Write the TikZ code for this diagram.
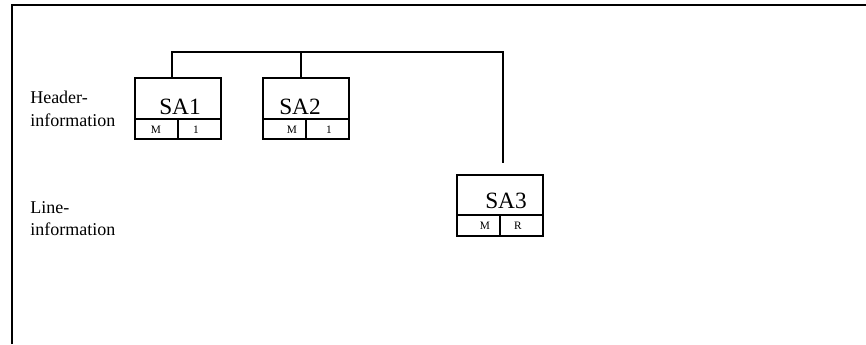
\documentclass[tikz,border=0pt]{standalone}
\usepackage{fontspec}
\setmainfont{Liberation Serif}
\begin{document}
\begin{tikzpicture}[x=0.75pt,y=-0.75pt,
  frame/.style={line width=1.1pt},
  conn/.style={line width=0.8pt},
  sabox/.style={draw,line width=0.8pt,minimum width=64.5pt,minimum height=45.75pt,inner sep=0pt},
  side/.style={align=left,anchor=north west,inner sep=0pt,font=\fontsize{13.5}{16.8}\selectfont},
  satext/.style={anchor=base,inner sep=0pt,font=\fontsize{17.5}{20}\selectfont},
  cell/.style={anchor=center,inner sep=0pt,font=\fontsize{8.5}{9}\selectfont}]
\useasboundingbox (0,0) rectangle (866,344);
% frame
\draw[frame] (12,344) -- (12,5) -- (866,5);
% labels
\node[side] (hdr) at (30,91) {Header-\\information};
\node[side] (lin) at (30,201) {Line-\\information};
% boxes
\node[sabox] (sa1) at (178,108.5) {};
\node[sabox] (sa2) at (306,108.5) {};
\node[sabox] (sa3) at (500,205.5) {};
% dividers
\foreach \b/\y in {sa1/119,sa2/119,sa3/215}{
  \draw[conn] (\b.west |- 0,\y) -- (\b.east |- 0,\y);
  \draw[conn] (\b.south) -- (\b.center |- 0,\y);
}
% texts
\node[satext] (t1) at (180,114) {SA1};
\node[satext] (t2) at (300,114) {SA2};
\node[satext] (t3) at (506,208) {SA3};
\node[cell] (c1a) at (156,130) {M};
\node[cell] (c1b) at (196,130) {1};
\node[cell] (c2a) at (292,130) {M};
\node[cell] (c2b) at (329,130) {1};
\node[cell] (c3a) at (485,226) {M};
\node[cell] (c3b) at (518,226) {R};
% connectors
\coordinate (j1) at (172,52);
\coordinate (j2) at (301,52);
\coordinate (j3) at (503,52);
\coordinate (e3) at (503,163);
\draw[conn] (sa1.north -| j1) -- (j1) -- (j3) -- (e3);
\draw[conn] (sa2.north -| j2) -- (j2);
\end{tikzpicture}
\end{document}
